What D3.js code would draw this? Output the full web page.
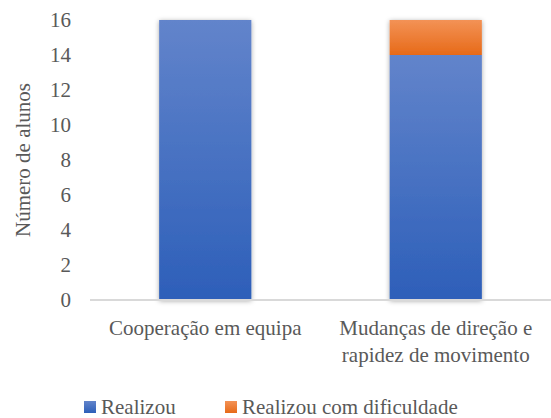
<!DOCTYPE html>
<html>
<head>
<meta charset="utf-8">
<script src="https://cdn.jsdelivr.net/npm/d3@7"></script>
</head>
<body style="margin:0; background:#fff; font-family: serif">
<script>
let categories = [['Cooperação em equipa'], ['Mudanças de direção e', 'rapidez de movimento']];
let realizou = [16, 14];
let comDificuldade = [0, 2];
let seriesNames = ['Realizou', 'Realizou com dificuldade'];
let yTicks = [0, 2, 4, 6, 8, 10, 12, 14, 16];

let width = 551, height = 418;
let margin = { top: 20, right: 0, bottom: 118, left: 90 };
let fontFam = 'Times New Roman, Tinos, serif';
let fontSize = 21;
let textColor = '#595959';

let svg = d3.select('body').append('svg')
  .attr('width', width)
  .attr('height', height)
  .style('display', 'block');

let defs = svg.append('defs');
let grads = [['blueGrad', '#6284cb', '#2d5fb9'], ['orangeGrad', '#f39256', '#e76a18']];
grads.forEach(function(g) {
  let lg = defs.append('linearGradient').attr('id', g[0])
    .attr('x1', 0).attr('y1', 0).attr('x2', 0).attr('y2', 1);
  lg.append('stop').attr('offset', '0%').attr('stop-color', g[1]);
  lg.append('stop').attr('offset', '100%').attr('stop-color', g[2]);
});
let shadow = defs.append('filter').attr('id', 'shadow')
  .attr('x', '-20%').attr('y', '-10%').attr('width', '140%').attr('height', '120%');
shadow.append('feDropShadow').attr('dx', 0).attr('dy', 1).attr('stdDeviation', 2.5)
  .attr('flood-color', '#000').attr('flood-opacity', 0.35);

let xScale = d3.scaleBand()
  .domain(d3.range(categories.length))
  .range([margin.left, width - margin.right])
  .paddingInner(0.6)
  .paddingOuter(0.3);

let yScale = d3.scaleLinear()
  .domain([0, 16])
  .range([height - margin.bottom, margin.top]);

// bars (stacked)
let stacked = categories.map(function(c, i) {
  return { i: i, a: realizou[i], b: comDificuldade[i] };
});

let barGroups = svg.append('g').selectAll('g')
  .data(stacked)
  .enter()
  .append('g')
    .attr('filter', 'url(#shadow)');

barGroups.append('rect')
  .attr('x', function(d) { return xScale(d.i); })
  .attr('width', xScale.bandwidth())
  .attr('y', function(d) { return yScale(d.a); })
  .attr('height', function(d) { return yScale(0) - yScale(d.a); })
  .style('fill', 'url(#blueGrad)');

barGroups.filter(function(d) { return d.b > 0; })
  .append('rect')
  .attr('x', function(d) { return xScale(d.i); })
  .attr('width', xScale.bandwidth())
  .attr('y', function(d) { return yScale(d.a + d.b); })
  .attr('height', function(d) { return yScale(d.a) - yScale(d.a + d.b); })
  .style('fill', 'url(#orangeGrad)');

// baseline
svg.append('line')
  .attr('x1', margin.left).attr('x2', width - margin.right)
  .attr('y1', yScale(0)).attr('y2', yScale(0))
  .style('stroke', '#d9d9d9')
  .style('stroke-width', 2);

// y axis
let yAxis = d3.axisLeft(yScale)
  .tickValues(yTicks)
  .tickSize(0)
  .tickPadding(0);

let yGuide = svg.append('g')
  .attr('transform', 'translate(71, 0)')
  .call(yAxis);
yGuide.select('.domain').remove();

svg.append('text')
  .attr('transform', 'translate(30, 160) rotate(-90)')
  .attr('text-anchor', 'middle')
  .text('Número de alunos');

// x labels
let xLabels = svg.append('g').selectAll('text')
  .data(categories)
  .enter()
  .append('text')
    .attr('text-anchor', 'middle')
    .attr('x', function(d, i) { return xScale(i) + xScale.bandwidth() / 2; })
    .attr('y', 335);

xLabels.selectAll('tspan')
  .data(function(d) { return d; })
  .enter()
  .append('tspan')
    .attr('x', function() { return d3.select(this.parentNode).attr('x'); })
    .attr('dy', function(d, i) { return i === 0 ? 0 : 27; })
    .text(function(d) { return d; });

// legend
let legendX = [84, 225];
let legendFill = ['url(#blueGrad)', 'url(#orangeGrad)'];
let legend = svg.append('g').selectAll('g')
  .data(seriesNames)
  .enter()
  .append('g')
    .attr('transform', function(d, i) { return `translate(${legendX[i]}, 401)`; });

legend.append('rect')
  .attr('width', 12).attr('height', 12)
  .attr('y', 0)
  .style('fill', function(d, i) { return legendFill[i]; });

legend.append('text')
  .attr('x', 17)
  .attr('y', 13)
  .text(function(d) { return d; });

// same font for every text
svg.selectAll('text')
  .attr('font-family', fontFam)
  .attr('font-size', fontSize)
  .attr('fill', textColor);
svg.selectAll('g').attr('font-family', null);
</script>
</body>
</html>
